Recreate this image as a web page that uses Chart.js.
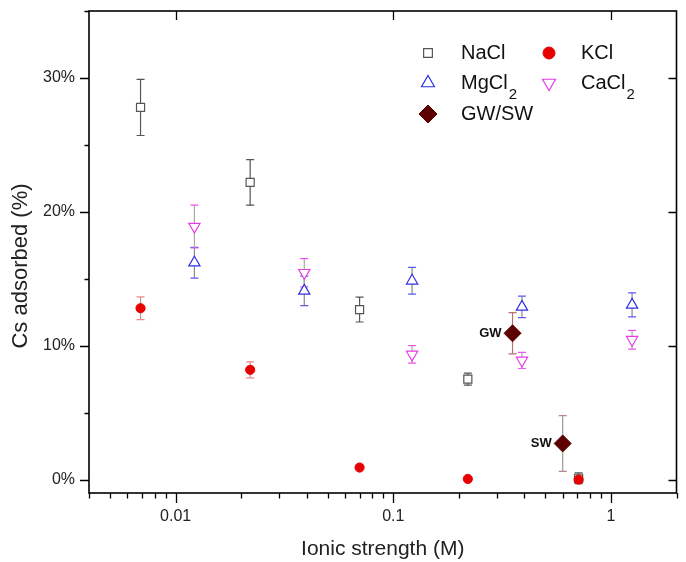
<!DOCTYPE html>
<html>
<head>
<meta charset="utf-8">
<script src="https://cdn.jsdelivr.net/npm/chart.js@4.4.0/dist/chart.umd.min.js"></script>
<style>
  html, body { margin: 0; padding: 0; background: #fff; }
  #wrap { width: 686px; height: 562px; }
</style>
</head>
<body>
<div id="wrap"><canvas id="chart" width="686" height="562"></canvas></div>
<script>
// Ionic strength (M) of each solution series
const ionicMonovalent = [0.0069, 0.022, 0.07, 0.22, 0.71];
const ionicDivalent = [0.0122, 0.039, 0.122, 0.39, 1.25];
const ionicNatural = [0.353, 0.60];
const naturalLabels = ['GW', 'SW'];

// Cs adsorbed (%) with standard deviations
const naclValues = [27.8, 22.2, 12.7, 7.5, 0.1];
const naclErrors = [2.1, 1.7, 0.93, 0.45, 0.4];
const kclValues = [12.8, 8.2, 0.9, 0.05, 0.0];
const kclErrors = [0.85, 0.6, 0, 0, 0];
const mgcl2Values = [16.2, 14.1, 14.85, 12.9, 13.05];
const mgcl2Errors = [1.15, 1.1, 1.0, 0.8, 0.9];
const cacl2Values = [18.9, 15.45, 9.35, 8.9, 10.45];
const cacl2Errors = [1.6, 1.05, 0.65, 0.6, 0.7];
const naturalValues = [10.93, 2.7];
const naturalErrors = [1.54, 2.08];

// Axis tick labels
const xTickValues = [0.01, 0.1, 1];
const yTickValues = [0, 10, 20, 30];
const yAxisTitle = 'Cs adsorbed (%)';

const FONT = '"Liberation Sans", Arial, Helvetica, sans-serif';

const toPoints = (xs, ys) => xs.map((x, i) => ({ x: x, y: ys[i] }));

const datasets = [
  {
    label: 'NaCl', data: toPoints(ionicMonovalent, naclValues), errorBars: naclErrors,
    pointStyle: 'rect', pointRadius: 5.7, borderColor: '#555', backgroundColor: '#fff', borderWidth: 1.2,
    stemColor: '#555', capColor: '#555', legendRadius: 6.2, order: 4
  },
  {
    label: 'KCl', data: toPoints(ionicMonovalent, kclValues), errorBars: kclErrors,
    pointStyle: 'circle', pointRadius: 4.6, borderColor: '#e60000', backgroundColor: '#e60000', borderWidth: 1,
    stemColor: '#b89a9a', capColor: '#f08a8a', legendRadius: 6, order: 1
  },
  {
    label: 'MgCl₂', data: toPoints(ionicDivalent, mgcl2Values), errorBars: mgcl2Errors,
    pointStyle: 'triangle', pointRadius: 6.5, borderColor: '#3030e0', backgroundColor: '#fff', borderWidth: 1.2,
    stemColor: '#8a8a8a', capColor: '#5a5af0', legendRadius: 7.5, order: 3
  },
  {
    label: 'CaCl₂', data: toPoints(ionicDivalent, cacl2Values), errorBars: cacl2Errors,
    pointStyle: 'triangle', rotation: 180, pointRadius: 6.5, borderColor: '#e63ce6', backgroundColor: '#fff', borderWidth: 1.2,
    stemColor: '#a8a8a8', capColor: '#ee55ee', legendRadius: 7.5, order: 2
  },
  {
    label: 'GW/SW', data: toPoints(ionicNatural, naturalValues), errorBars: naturalErrors, pointLabels: naturalLabels,
    pointStyle: 'rectRot', pointRadius: 8.5, borderColor: '#5c0000', backgroundColor: '#5c0000', borderWidth: 1,
    stemColor: ['#b57272', '#9a9a9a'], capColor: ['#b57272', '#b08a8a'], legendRadius: 9, order: 0
  }
];

function pick(v, j) { return Array.isArray(v) ? v[j] : v; }

// Legend grid: two columns, three rows inside the plot area
const legendMarkerX = [428, 549];
const legendTextX = [461, 581];
const legendRowY = [53, 83, 114];
const legendSlots = [[0, 0], [1, 0], [0, 1], [1, 1], [0, 2]];

function drawFormula(ctx, label, x, y) {
  const main = label.replace('₂', '');
  ctx.font = '20px ' + FONT;
  ctx.textAlign = 'left';
  ctx.textBaseline = 'middle';
  ctx.fillStyle = '#111';
  ctx.fillText(main, x, y);
  if (label.indexOf('₂') >= 0) {
    const w = ctx.measureText(main).width;
    ctx.font = '15px ' + FONT;
    ctx.fillText('2', x + w + 1, y + 12);
  }
}

function zeroPadding(s) {
  s.paddingTop = 0; s.paddingBottom = 0; s.paddingLeft = 0; s.paddingRight = 0;
}

const decorations = {
  id: 'decorations',
  beforeDatasetsDraw(chart) {
    const ctx = chart.ctx;
    const ys = chart.scales.y;
    chart.data.datasets.forEach((ds, i) => {
      const meta = chart.getDatasetMeta(i);
      meta.data.forEach((pt, j) => {
        const e = ds.errorBars[j];
        if (!e) return;
        const v = ds.data[j].y;
        const top = ys.getPixelForValue(v + e);
        const bot = ys.getPixelForValue(v - e);
        ctx.save();
        ctx.lineWidth = 1.2;
        ctx.strokeStyle = pick(ds.stemColor, j);
        ctx.beginPath();
        ctx.moveTo(pt.x, top);
        ctx.lineTo(pt.x, bot);
        ctx.stroke();
        ctx.strokeStyle = pick(ds.capColor, j);
        ctx.beginPath();
        ctx.moveTo(pt.x - 4, top); ctx.lineTo(pt.x + 4, top);
        ctx.moveTo(pt.x - 4, bot); ctx.lineTo(pt.x + 4, bot);
        ctx.stroke();
        ctx.restore();
      });
    });
  },
  afterDatasetsDraw(chart) {
    const ctx = chart.ctx;
    chart.data.datasets.forEach((ds, i) => {
      if (!ds.pointLabels) return;
      const meta = chart.getDatasetMeta(i);
      meta.data.forEach((pt, j) => {
        ctx.save();
        ctx.font = 'bold 13px ' + FONT;
        ctx.fillStyle = '#111';
        ctx.textAlign = 'right';
        ctx.textBaseline = 'middle';
        ctx.fillText(ds.pointLabels[j], pt.x - 11, pt.y);
        ctx.restore();
      });
    });
  },
  afterDraw(chart) {
    const ctx = chart.ctx;
    const a = chart.chartArea;
    const xs = chart.scales.x;
    const ys = chart.scales.y;
    ctx.save();
    ctx.strokeStyle = '#000';
    ctx.lineWidth = 1.6;
    ctx.strokeRect(a.left, a.top, a.right - a.left, a.bottom - a.top);

    ctx.lineWidth = 1.3;
    ctx.beginPath();
    // log axis: majors at decades, minors at 2..9
    [0.001, 0.01, 0.1, 1].forEach(d => {
      for (let m = 1; m <= 9; m++) {
        const v = m * d;
        if (v < xs.min - 1e-12 || v > xs.max + 1e-12) continue;
        const px = Math.round(xs.getPixelForValue(v)) + 0.5;
        const major = m === 1;
        ctx.moveTo(px, a.bottom);
        ctx.lineTo(px, a.bottom + (major ? 10 : 5.5));
        if (major) {
          ctx.moveTo(px, a.top);
          ctx.lineTo(px, a.top + 9);
        }
      }
    });
    // linear axis: majors every 10 %, minors every 5 %
    for (let v = 0; v <= 35; v += 5) {
      const py = Math.round(ys.getPixelForValue(v)) + 0.5;
      const major = v % 10 === 0;
      ctx.moveTo(a.left - (major ? 9 : 4.5), py);
      ctx.lineTo(a.left, py);
      if (major) {
        ctx.moveTo(a.right - 8, py);
        ctx.lineTo(a.right, py);
      }
    }
    ctx.stroke();

    // vertical axis title
    ctx.save();
    ctx.translate(21, 266);
    ctx.rotate(-Math.PI / 2);
    ctx.font = '22px ' + FONT;
    ctx.fillStyle = '#222';
    ctx.textAlign = 'center';
    ctx.textBaseline = 'middle';
    ctx.fillText(yAxisTitle, 0, 0);
    ctx.restore();

    // legend
    legendSlots.forEach((slot, i) => {
      const ds = chart.data.datasets[i];
      const mx = legendMarkerX[slot[0]];
      const my = legendRowY[slot[1]];
      ctx.save();
      ctx.fillStyle = ds.backgroundColor;
      ctx.strokeStyle = ds.borderColor;
      ctx.lineWidth = ds.borderWidth;
      Chart.helpers.drawPoint(ctx, {
        pointStyle: ds.pointStyle, rotation: ds.rotation || 0,
        radius: ds.legendRadius, borderWidth: ds.borderWidth
      }, mx, my);
      ctx.restore();
      drawFormula(ctx, ds.label, legendTextX[slot[0]], my);
    });
    ctx.restore();
  }
};

new Chart(document.getElementById('chart'), {
  type: 'scatter',
  data: { datasets: datasets },
  plugins: [decorations],
  options: {
    responsive: false,
    animation: false,
    devicePixelRatio: 1,
    layout: { padding: { top: 11, right: 6, left: 0, bottom: 0 } },
    plugins: { legend: { display: false }, tooltip: { enabled: false } },
    scales: {
      x: {
        type: 'logarithmic',
        position: 'bottom',
        min: 0.004,
        max: 2,
        afterBuildTicks: s => { s.ticks = xTickValues.map(v => ({ value: v })); },
        afterFit: s => { s.height = 69; zeroPadding(s); },
        grid: { display: false, drawTicks: false },
        border: { display: false },
        ticks: {
          autoSkip: false, maxRotation: 0, padding: 14, color: '#222',
          font: { size: 16, family: FONT },
          callback: v => String(v)
        },
        title: {
          display: true, text: 'Ionic strength (M)', color: '#222',
          font: { size: 21, family: FONT }, padding: { top: 0, bottom: 0 }
        }
      },
      y: {
        min: -1,
        max: 35,
        afterBuildTicks: s => { s.ticks = yTickValues.map(v => ({ value: v })); },
        afterFit: s => { s.width = 89; zeroPadding(s); },
        grid: { display: false, drawTicks: false },
        border: { display: false },
        ticks: {
          padding: 14, color: '#222',
          font: { size: 16, family: FONT },
          callback: v => v + '%'
        }
      }
    }
  }
});
</script>
</body>
</html>
